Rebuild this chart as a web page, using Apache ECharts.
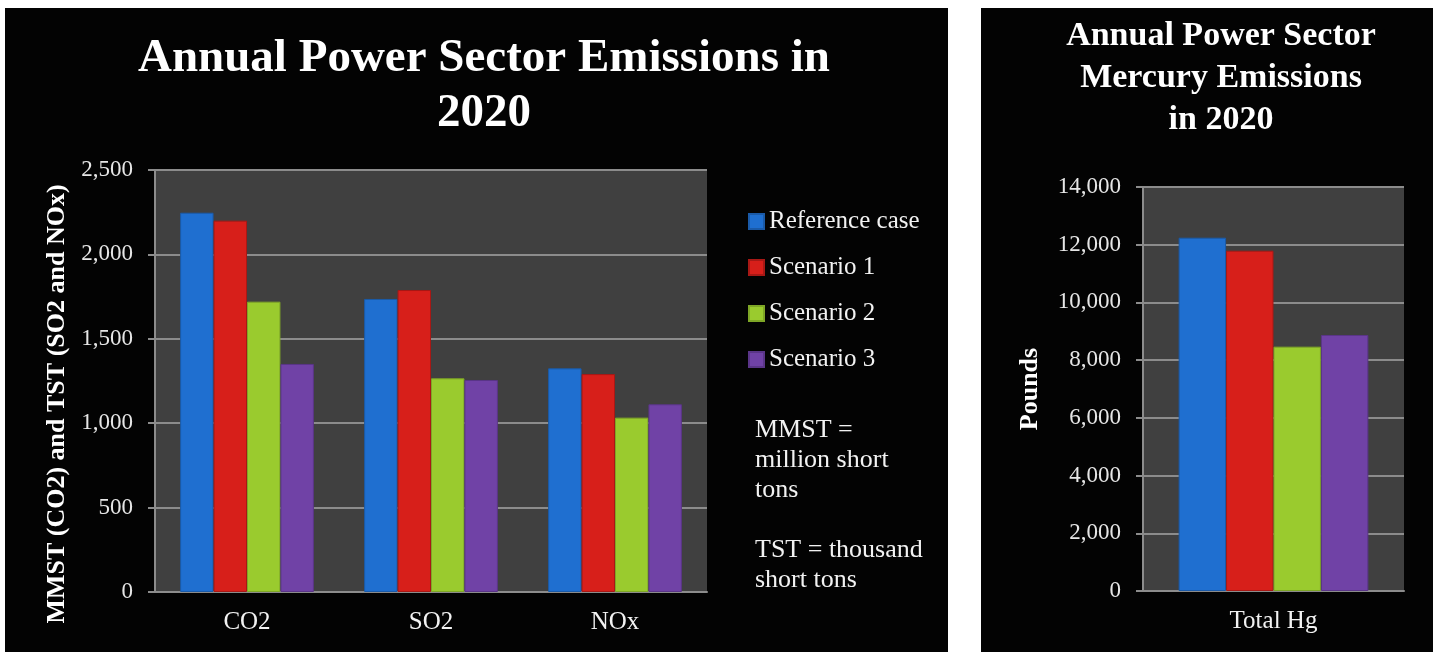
<!DOCTYPE html>
<html>
<head>
<meta charset="utf-8">
<script src="https://cdn.jsdelivr.net/npm/echarts@6/dist/echarts.min.js"></script>
<style>
html,body{margin:0;padding:0;background:#fff;}
#c{width:1439px;height:652px;}
</style>
</head>
<body>
<div id="c"></div>
<script>
const categories = ['CO2', 'SO2', 'NOx'];
const seriesNames = ['Reference case', 'Scenario 1', 'Scenario 2', 'Scenario 3'];
const referenceCase = [2247, 1736, 1325];
const scenario1 = [2200, 1789, 1291];
const scenario2 = [1720, 1266, 1033];
const scenario3 = [1351, 1256, 1112];
const hgCategories = ['Total Hg'];
const hgValues = [12243, 11793, 8467, 8871];

const colors = ['#1f6fd0', '#d71f1a', '#9acb2e', '#7042a6'];
const borders = ['#1a5aa8', '#a81815', '#7ea626', '#5a3588'];
const FONT = '"Liberation Serif", "DejaVu Serif", serif';
const fmt = v => v.toLocaleString('en-US');
const leftData = [referenceCase, scenario1, scenario2, scenario3];

const series = [];
seriesNames.forEach((n, i) => {
  series.push({
    name: n, type: 'bar', xAxisIndex: 0, yAxisIndex: 0,
    data: leftData[i], barGap: '0%', barCategoryGap: '27.3%',
    itemStyle: {color: colors[i], borderColor: borders[i], borderWidth: 1}
  });
});
seriesNames.forEach((n, i) => {
  series.push({
    name: n, type: 'bar', xAxisIndex: 1, yAxisIndex: 1,
    data: [hgValues[i]], barGap: '0%', barCategoryGap: '27.3%',
    itemStyle: {color: colors[i], borderColor: borders[i], borderWidth: 1}
  });
});

const axisCommon = {
  axisLine: {show: true, lineStyle: {color: '#8c8c8c', width: 2}},
  axisTick: {show: true, length: 7, lineStyle: {color: '#8c8c8c', width: 2}},
  axisLabel: {color: '#e6e6e6', fontFamily: FONT, fontSize: 23, margin: 22, formatter: fmt},
  splitLine: {show: true, lineStyle: {color: '#8c8c8c', width: 2}},
  nameTextStyle: {color: '#fff', fontFamily: FONT, fontWeight: 'bold', fontSize: 26}
};

const chart = echarts.init(document.getElementById('c'));
chart.setOption({
  backgroundColor: '#ffffff',
  animation: false,
  graphic: [
    {type: 'rect', z: -10, shape: {x: 5, y: 8, width: 943, height: 644}, style: {fill: '#030303'}},
    {type: 'rect', z: -10, shape: {x: 981, y: 8, width: 452, height: 644}, style: {fill: '#030303'}},
    {type: 'text', x: 57, y: 404, rotation: Math.PI / 2,
     style: {text: 'MMST (CO2) and TST (SO2 and NOx)', fill: '#fff', font: 'bold 26px ' + FONT, align: 'center', verticalAlign: 'middle'}},
    {type: 'text', left: 755, top: 415, style: {text: 'MMST =\nmillion short\ntons', fill: '#f2f2f2', font: '26px ' + FONT, lineHeight: 30}},
    {type: 'text', left: 755, top: 535, style: {text: 'TST = thousand\nshort tons', fill: '#f2f2f2', font: '26px ' + FONT, lineHeight: 30}}
  ],
  title: [
    {text: 'Annual Power Sector Emissions in\n2020', left: 479, top: 26, textAlign: 'center',
     textStyle: {color: '#fff', fontFamily: FONT, fontWeight: 'bold', fontSize: 47, lineHeight: 55}},
    {text: 'Annual Power Sector\nMercury Emissions\nin 2020', left: 1216, top: 10, textAlign: 'center',
     textStyle: {color: '#fff', fontFamily: FONT, fontWeight: 'bold', fontSize: 34, lineHeight: 42}}
  ],
  legend: {
    orient: 'vertical', left: 748, top: 209, padding: 0, itemWidth: 15, itemHeight: 15, itemGap: 21,
    icon: 'rect', data: seriesNames,
    textStyle: {color: '#f2f2f2', fontFamily: FONT, fontSize: 25, lineHeight: 25}
  },
  grid: [
    {left: 155, top: 170, width: 552, height: 422, show: true, backgroundColor: '#404040', borderWidth: 0},
    {left: 1143, top: 187, width: 261, height: 404, show: true, backgroundColor: '#404040', borderWidth: 0}
  ],
  xAxis: [
    {type: 'category', gridIndex: 0, data: categories,
     axisLine: {show: true, lineStyle: {color: '#8c8c8c', width: 2}}, axisTick: {show: false},
     axisLabel: {color: '#f2f2f2', fontFamily: FONT, fontSize: 25, margin: 18}},
    {type: 'category', gridIndex: 1, data: hgCategories,
     axisLine: {show: true, lineStyle: {color: '#8c8c8c', width: 2}}, axisTick: {show: false},
     axisLabel: {color: '#f2f2f2', fontFamily: FONT, fontSize: 25, margin: 18}}
  ],
  yAxis: [
    Object.assign({}, axisCommon, {type: 'value', gridIndex: 0, min: 0, max: 2500, interval: 500}),
    Object.assign({}, axisCommon, {type: 'value', gridIndex: 1, min: 0, max: 14000, interval: 2000,
      name: 'Pounds', nameLocation: 'middle', nameGap: 100})
  ],
  series: series
});
</script>
</body>
</html>
